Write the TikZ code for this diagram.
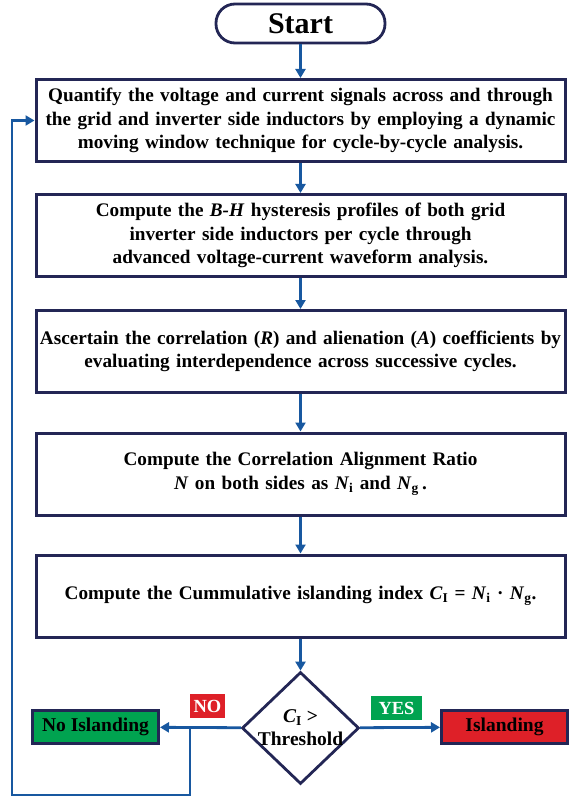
\documentclass[tikz,border=0pt]{standalone}
\usepackage{fontspec}
\setmainfont{Liberation Serif}
\usetikzlibrary{shapes.geometric, arrows.meta, positioning}
\definecolor{navy}{RGB}{35,38,85}
\definecolor{flow}{RGB}{24,88,160}
\definecolor{okgreen}{RGB}{0,163,80}
\definecolor{alarm}{RGB}{222,32,40}
\tikzset{
  term/.style = {draw=navy, line width=2.8pt, rounded corners=19pt, fill=white,
    minimum width=169pt, minimum height=39pt, inner sep=0pt,
    font=\bfseries\fontsize{30}{32}\selectfont},
  proc/.style = {draw=navy, line width=3pt, fill=white, minimum width=529pt,
    minimum height=82pt, text width=529pt, align=center, inner sep=0pt,
    font=\bfseries\fontsize{19.2}{23.5}\selectfont},
  dec/.style = {diamond, draw=navy, line width=2.8pt, fill=white, aspect=1.05,
    minimum width=117pt, minimum height=112pt, inner sep=-9pt, align=center,
    font=\bfseries\fontsize{19.5}{23}\selectfont},
  res/.style = {draw=navy, line width=3pt, minimum width=126pt,
    minimum height=33pt, inner sep=0pt, font=\bfseries\fontsize{19.5}{21}\selectfont},
  tag/.style = {text=white, inner sep=0pt, minimum height=24pt,
    font=\bfseries\fontsize{18.5}{20}\selectfont},
  seta/.style = {-{Triangle[length=9pt, width=10pt]}, line width=2.8pt, draw=flow},
  lp/.style = {line width=2.8pt, draw=flow}
}
\newcommand{\vi}[2]{\textit{#1}\textsubscript{#2}}

\begin{document}
\begin{tikzpicture}[x=1pt, y=-1pt]
  \useasboundingbox (0,0) rectangle (568,799);
  \node [term] (st) at (300.5,23.5) {Start};
  \node [proc] (b1) at (300.5,120.5) {Quantify the voltage and current signals across and through\\
    the grid and inverter side inductors by employing a dynamic\\
    moving window technique for cycle-by-cycle analysis.};
  \node [proc] (b2) at (300.5,235.5) {Compute the \textit{B-H} hysteresis profiles of both grid\\
    inverter side inductors per cycle through\\
    advanced voltage-current waveform analysis.};
  \node [proc] (b3) at (300.5,351.5) {Ascertain the correlation (\textit{R}) and alienation (\textit{A}) coefficients by\\
    evaluating interdependence across successive cycles.};
  \node [proc] (b4) at (300.5,474) {Compute the Correlation Alignment Ratio\\
    \textit{N} on both sides as \vi{N}{i} and \vi{N}{g}\,.};
  \node [proc] (b5) at (300.5,596) {Compute the Cummulative islanding index
    \vi{C}{I} = \vi{N}{i} · \vi{N}{g}.};
  \node [dec] (th) at (300.5,728) {\vi{C}{I} >\\Threshold};
  \node [res, fill=okgreen] (no) at (95.5,727) {No Islanding};
  \node [res, fill=alarm] (isl) at (504.5,727) {Islanding};
  \node [tag, fill=alarm, minimum width=35pt] (tn) at (207.5,706) {NO};
  \node [tag, fill=okgreen, minimum width=51pt] (ty) at (396.5,708) {YES};
  \coordinate (jn) at (190,728);
  \coordinate (lb) at (12,795);
  \draw [seta] (st) -- (b1);
  \draw [seta] (b1) -- (b2);
  \draw [seta] (b2) -- (b3);
  \draw [seta] (b3) -- (b4);
  \draw [seta] (b4) -- (b5);
  \draw [seta] (b5) -- (th);
  \draw [seta] (th) -- (isl);
  \draw [seta] (th) -- (no);
  \draw [seta] (jn) -- (jn |- lb) -- (lb) |- (b1.west);
\end{tikzpicture}
\end{document}
